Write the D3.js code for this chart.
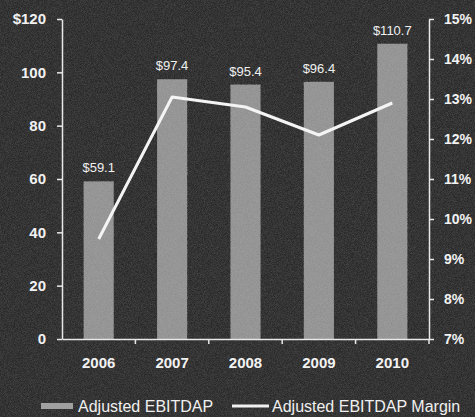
<!DOCTYPE html>
<html><head><meta charset="utf-8">
<script src="https://cdn.jsdelivr.net/npm/d3@7"></script>
<style>html,body{margin:0;padding:0;background:#2e2e2e;}svg{display:block;}</style>
</head><body>
<script>
const years = ["2006","2007","2008","2009","2010"];
const ebitdap = [59.1, 97.4, 95.4, 96.4, 110.7];
const ebitdapLabels = ["$59.1","$97.4","$95.4","$96.4","$110.7"];
const margin = [9.5, 13.05, 12.8, 12.1, 12.9];
const leftTicks = [0,20,40,60,80,100,120];
const leftTickLabels = ["0","20","40","60","80","100","$120"];
const rightTicks = [7,8,9,10,11,12,13,14,15];
const rightTickLabels = ["7%","8%","9%","10%","11%","12%","13%","14%","15%"];
const legendNames = ["Adjusted EBITDAP","Adjusted EBITDAP Margin"];

const W = 475, H = 417;
const svg = d3.select("body").append("svg").attr("width", W).attr("height", H)
  .style("font-family", "'Liberation Sans', Arial, sans-serif");

// noisy background
const defs = svg.append("defs");
const f = defs.append("filter").attr("id","noise").attr("x",0).attr("y",0).attr("width","100%").attr("height","100%");
f.append("feTurbulence").attr("type","fractalNoise").attr("baseFrequency",1.3).attr("numOctaves",1).attr("seed",3).attr("result","t");
f.append("feColorMatrix").attr("in","t").attr("type","matrix")
  .attr("values","0 0 0 0 1  0 0 0 0 1  0 0 0 0 1  0 0 0 0.6 -0.15");
svg.append("rect").attr("width",W).attr("height",H).attr("fill","#262626");
svg.append("rect").attr("width",W).attr("height",H).attr("filter","url(#noise)").attr("opacity",0.45);

const x0 = 62, x1 = 429, yTop = 19, yBot = 339;
const xb = d3.scaleBand().domain(years).range([x0, x1]);
const yL = d3.scaleLinear().domain([0,120]).range([yBot, yTop]);
const yR = d3.scaleLinear().domain([7,15]).range([yBot, yTop]);

// bars
svg.append("g").selectAll("rect").data(years).join("rect")
  .attr("x", d => xb(d) + xb.bandwidth()/2 - 15)
  .attr("width", 30)
  .attr("y", (d,i) => yL(ebitdap[i]))
  .attr("height", (d,i) => yBot - yL(ebitdap[i]))
  .attr("fill", "#8f8f8f");
svg.append("g").selectAll("rect").data(years).join("rect")
  .attr("x", d => xb(d) + xb.bandwidth()/2 - 15)
  .attr("width", 30)
  .attr("y", (d,i) => yL(ebitdap[i]))
  .attr("height", (d,i) => yBot - yL(ebitdap[i]))
  .attr("filter","url(#noise)").attr("opacity",0.4);

// bar labels
svg.append("g").selectAll("text").data(years).join("text")
  .attr("x", d => xb(d) + xb.bandwidth()/2)
  .attr("y", (d,i) => yL(ebitdap[i]) - 9)
  .attr("text-anchor","middle").attr("fill","#f0f0f0")
  .attr("font-size", 13)
  .text((d,i) => ebitdapLabels[i]);

// axes
const axStyle = (fs) => g => {
  g.selectAll(".domain").attr("stroke","#e8e8e8").attr("stroke-width",1.5);
  g.selectAll(".tick line").attr("stroke","#e8e8e8").attr("stroke-width",1.5);
  g.selectAll("text").attr("fill","#f2f2f2").attr("font-weight","bold").attr("font-size",fs);
};
svg.append("g").attr("transform",`translate(${x0},0)`)
  .call(d3.axisLeft(yL).tickValues(leftTicks).tickSize(5).tickSizeOuter(0).tickPadding(11)
    .tickFormat((d,i) => leftTickLabels[i]))
  .call(axStyle(15));
svg.append("g").attr("transform",`translate(${x1},0)`)
  .call(d3.axisRight(yR).tickValues(rightTicks).tickSize(5).tickSizeOuter(0).tickPadding(10)
    .tickFormat((d,i) => rightTickLabels[i]))
  .call(axStyle(14));
const xg = svg.append("g").attr("transform",`translate(0,${yBot})`)
  .call(d3.axisBottom(xb).tickSize(0).tickPadding(18))
  .call(axStyle(15));
// separator ticks between categories
xg.selectAll("line.sep").data(years.slice(1).concat(["end"])).join("line").attr("class","sep")
  .attr("x1", d => d === "end" ? x1 : xb(d)).attr("x2", d => d === "end" ? x1 : xb(d))
  .attr("y1", 0).attr("y2", 5).attr("stroke","#e8e8e8").attr("stroke-width",1.5);

// margin line
const line = d3.line().x((d,i) => xb(years[i]) + xb.bandwidth()/2).y(d => yR(d));
svg.append("path").datum(margin).attr("d", line)
  .attr("fill","none").attr("stroke","#f4f4f4").attr("stroke-width",3).attr("stroke-linejoin","round");

// legend
const lg = svg.append("g");
lg.append("rect").attr("x",41).attr("y",403).attr("width",32).attr("height",6).attr("fill","#a0a0a0");
lg.append("text").attr("x",78).attr("y",412).attr("fill","#f0f0f0").attr("font-size",16).text(legendNames[0]);
lg.append("line").attr("x1",232).attr("x2",269).attr("y1",406).attr("y2",406).attr("stroke","#f0f0f0").attr("stroke-width",3);
lg.append("text").attr("x",272).attr("y",412).attr("fill","#f0f0f0").attr("font-size",16).text(legendNames[1]);
</script>
</body></html>
